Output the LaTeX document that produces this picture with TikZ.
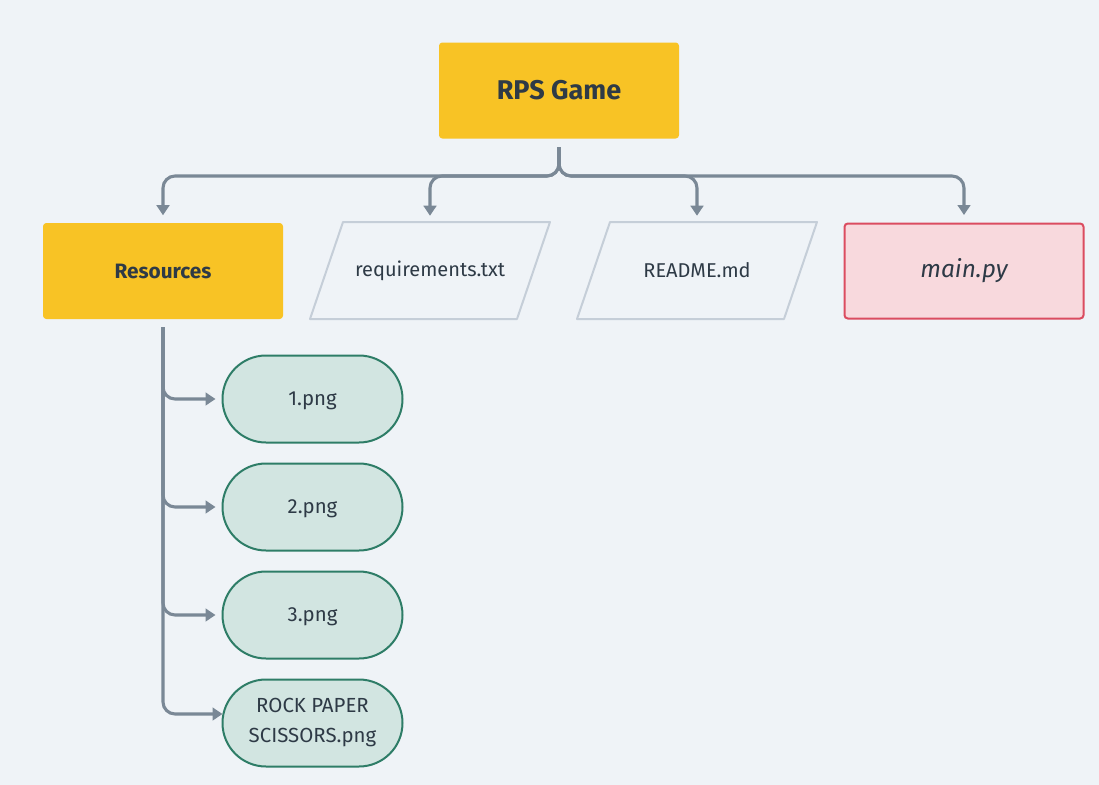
\documentclass[tikz,border=0pt]{standalone}
\usepackage{fontspec}
\setmainfont{Fira Sans}
\usetikzlibrary{arrows.meta,shapes.misc,calc}
\definecolor{bg}{HTML}{EFF3F7}
\definecolor{yel}{HTML}{F8C325}
\definecolor{ink}{HTML}{2E3A46}
\definecolor{conn}{HTML}{7A8896}
\definecolor{pbord}{HTML}{C5CED8}
\definecolor{pinkf}{HTML}{F8D9DD}
\definecolor{pinkd}{HTML}{DB4C60}
\definecolor{grnf}{HTML}{D2E5E1}
\definecolor{grnd}{HTML}{2E7D67}
\tikzset{
  ybox/.style={fill=yel, rounded corners=2.5, minimum width=240*0.75pt, minimum height=96*0.75pt, text=ink, inner sep=0pt},
  ptext/.style={minimum width=207*0.75pt, minimum height=97*0.75pt, text=ink, font=\fontsize{15}{18}\selectfont, inner sep=0pt},
  pline/.style={draw=pbord, line width=1.5pt, fill=bg, line join=round},
  rbox/.style={fill=pinkf, draw=pinkd, line width=1.5pt, rounded corners=2.5, minimum width=239*0.75pt, minimum height=95*0.75pt, text=ink, font=\fontsize{18.3}{22}\selectfont\itshape, inner sep=0pt},
  pill/.style={rounded rectangle, fill=grnf, draw=grnd, line width=1.5pt, minimum width=180*0.75pt, minimum height=87*0.75pt, text=ink, font=\fontsize{15.3}{22.5}\selectfont, align=center, inner sep=0pt},
  cn/.style={draw=conn, line width=2.3pt, rounded corners=9pt, -{Triangle[length=7.5pt,width=9.5pt]}},
}
\begin{document}
\begin{tikzpicture}[x=0.75pt,y=-0.75pt]
\fill[bg] (0,0) rectangle (1099,785);
\useasboundingbox (0,0) rectangle (1099,785);
% parallelogram outlines (drawn first)
\coordinate (reqc) at (430,270.5);
\coordinate (rdc) at (697,270.5);
\draw[pline] ($(reqc)+(-120,48.5)$) -- ($(reqc)+(-87,-48.5)$) -- ($(reqc)+(120,-48.5)$) -- ($(reqc)+(87,48.5)$) -- cycle;
\draw[pline] ($(rdc)+(-120,48.5)$) -- ($(rdc)+(-87,-48.5)$) -- ($(rdc)+(120,-48.5)$) -- ($(rdc)+(87,48.5)$) -- cycle;
% nodes
\node[ybox, font=\fontsize{20.3}{24}\selectfont\bfseries] (root) at (559,90.5) {RPS Game};
\node[ybox, font=\fontsize{15.6}{18}\selectfont\bfseries] (res) at (163,271) {Resources};
\node[ptext] (req) at (reqc) {requirements.txt};
\node[ptext] (readme) at (rdc) {README.md};
\node[rbox] (main) at (964,271) {main.py};
\node[pill, text depth=0pt] (p1) at (312.5,399) {1.png};
\node[pill, text depth=0pt] (p2) at (312.5,507) {2.png};
\node[pill, text depth=0pt] (p3) at (312.5,615) {3.png};
\node[pill] (p4) at (312.5,723) {ROCK PAPER\\SCISSORS.png};
% connectors from root
\coordinate (rs) at (559,147);
\coordinate (hb) at (559,176);
\draw[cn, shorten >=7.5pt*0.75] (rs) -- (hb) -- (res.north |- hb) -- (res.north);
\draw[cn, shorten >=6pt*0.75] (rs) -- (hb) -- (req.north |- hb) -- (req.north);
\draw[cn, shorten >=6pt*0.75] (rs) -- (hb) -- (readme.north |- hb) -- (readme.north);
\draw[cn, shorten >=7.5pt*0.75] (rs) -- (hb) -- (main.north |- hb) -- (main.north);
% connectors from Resources
\coordinate (rb) at (163,327);
\coordinate (p4in) at ($(p4.west)+(1,-9)$);
\draw[cn, shorten >=6pt*0.75] (rb) -- (rb |- p1.west) -- (p1.west);
\draw[cn, shorten >=6pt*0.75] (rb) -- (rb |- p2.west) -- (p2.west);
\draw[cn, shorten >=6pt*0.75] (rb) -- (rb |- p3.west) -- (p3.west);
\draw[cn] (rb) -- (rb |- p4in) -- (p4in);
\end{tikzpicture}
\end{document}
